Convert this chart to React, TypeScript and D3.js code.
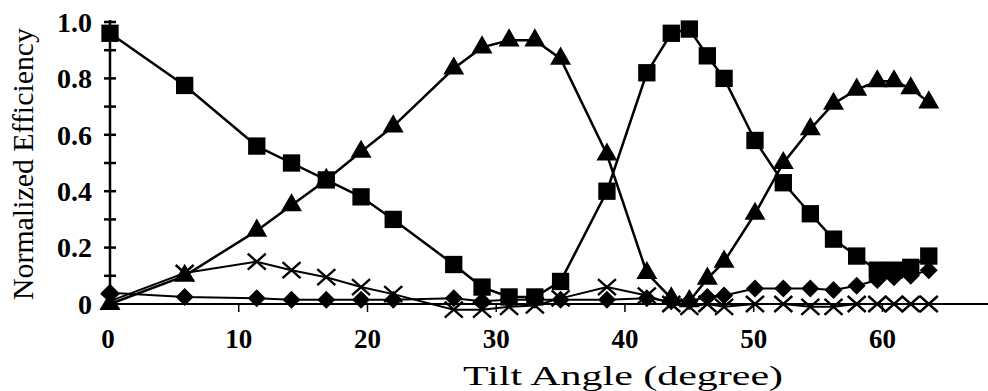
import React from "react";
import * as d3 from "d3";

const angles = [0, 5.8, 11.4, 14.1, 16.8, 19.5, 22, 26.7, 28.9, 31, 33, 35, 38.6, 41.7, 43.6, 45, 46.4, 47.7, 50.1, 52.3, 54.4, 56.2, 58, 59.6, 60.9, 62.2, 63.6];
const squares = [0.96, 0.775, 0.56, 0.5, 0.44, 0.38, 0.3, 0.14, 0.06, 0.025, 0.025, 0.08, 0.4, 0.82, 0.96, 0.975, 0.88, 0.8, 0.58, 0.43, 0.32, 0.23, 0.17, 0.12, 0.12, 0.13, 0.17];
const triangles = [0.0, 0.1, 0.26, 0.35, 0.44, 0.54, 0.63, 0.835, 0.91, 0.935, 0.935, 0.87, 0.53, 0.11, 0.02, 0.01, 0.09, 0.15, 0.32, 0.5, 0.62, 0.71, 0.76, 0.79, 0.79, 0.765, 0.715];
const crosses = [0.01, 0.11, 0.15, 0.12, 0.095, 0.06, 0.035, -0.02, -0.02, -0.01, -0.005, 0.02, 0.06, 0.03, 0.0, -0.01, 0.0, -0.01, 0.0, 0.0, -0.01, -0.01, 0.0, 0.0, 0.0, 0.0, 0.0];
const diamonds = [0.04, 0.025, 0.02, 0.015, 0.015, 0.015, 0.015, 0.02, 0.01, 0.015, 0.015, 0.015, 0.015, 0.02, 0.01, 0.01, 0.025, 0.03, 0.055, 0.055, 0.055, 0.05, 0.065, 0.085, 0.095, 0.1, 0.12];

const xTicks = [0, 10, 20, 30, 40, 50, 60];
const yMinorTicks = [0, 0.1, 0.2, 0.3, 0.4, 0.5, 0.6, 0.7, 0.8, 0.9, 1.0];
const yLabels = ["0", "0.2", "0.4", "0.6", "0.8", "1.0"];
const yLabelValues = [0, 0.2, 0.4, 0.6, 0.8, 1.0];
const xTitle = "Tilt Angle  (degree)";
const yTitle = "Normalized Efficiency";

export default function App() {
  const W = 988, H = 391;
  const x = d3.scaleLinear().domain([0, 68.2]).range([110, 988]);
  const y = d3.scaleLinear().domain([0, 1]).range([304, 22]);
  const line = (vals: number[]) =>
    d3.line<number>().x((_, i) => x(angles[i])).y((v) => y(v))(vals) || "";
  const font = "Liberation Serif, Times New Roman, Times, serif";

  const sq = d3.symbol().type(d3.symbolSquare).size(300);
  const tri = d3.symbol().type(d3.symbolTriangle).size(190);
  const diamondPath = (cx: number, cy: number) =>
    `M${cx},${cy - 9}L${cx + 9},${cy}L${cx},${cy + 9}L${cx - 9},${cy}Z`;
  const crossPath = (cx: number, cy: number) =>
    `M${cx - 9},${cy - 8}L${cx + 9},${cy + 8}M${cx - 9},${cy + 8}L${cx + 9},${cy - 8}`;

  return (
    <svg width={W} height={H} style={{ position: "absolute", left: 0, top: 0, background: "#fff" }}>
      <line x1={x(0)} x2={988} y1={y(0)} y2={y(0)} stroke="#000" strokeWidth={2} />
      <line x1={x(0)} x2={x(0)} y1={y(1) - 2} y2={y(0) + 4} stroke="#000" strokeWidth={2.5} />
      {yMinorTicks.map((t) => (
        <line key={"yt" + t} x1={x(0) - 6} x2={x(0) + 6} y1={y(t)} y2={y(t)} stroke="#000" strokeWidth={2.5} />
      ))}
      {xTicks.slice(1).map((t) => (
        <line key={"xt" + t} x1={x(t)} x2={x(t)} y1={y(0)} y2={y(0) + 8} stroke="#000" strokeWidth={1.5} />
      ))}
      {yLabels.map((l, i) => (
        <text key={"yl" + l} x={92} y={y(yLabelValues[i])} dy="0.35em" textAnchor="end"
          fontFamily={font} fontWeight="bold" fontSize={28}>{l}</text>
      ))}
      {xTicks.map((t) => (
        <text key={"xl" + t} x={x(t) + (t === 0 ? -2 : 0)} y={348} textAnchor="middle"
          fontFamily={font} fontWeight="bold" fontSize={27}>{t}</text>
      ))}
      <text x={463} y={385} fontFamily={font} fontSize={28} textLength={320} lengthAdjust="spacingAndGlyphs">{xTitle}</text>
      <text transform="translate(33,300) rotate(-90)" fontFamily={font} fontSize={29} textLength={272} lengthAdjust="spacingAndGlyphs">{yTitle}</text>

      <path d={line(diamonds)} fill="none" stroke="#000" strokeWidth={2} />
      <path d={line(crosses)} fill="none" stroke="#000" strokeWidth={2} />
      <path d={line(triangles)} fill="none" stroke="#000" strokeWidth={2.5} />
      <path d={line(squares)} fill="none" stroke="#000" strokeWidth={2.5} />

      {diamonds.map((v, i) => (
        <path key={"d" + i} d={diamondPath(x(angles[i]), y(v))} fill="#000" />
      ))}
      {crosses.map((v, i) => (
        <path key={"c" + i} d={crossPath(x(angles[i]), y(v))} fill="none" stroke="#000" strokeWidth={2.4} />
      ))}
      {triangles.map((v, i) => (
        <path key={"t" + i} d={tri() || ""} transform={`translate(${x(angles[i])},${y(v)})`} fill="#000" />
      ))}
      {squares.map((v, i) => (
        <path key={"s" + i} d={sq() || ""} transform={`translate(${x(angles[i])},${y(v)})`} fill="#000" />
      ))}
    </svg>
  );
}
